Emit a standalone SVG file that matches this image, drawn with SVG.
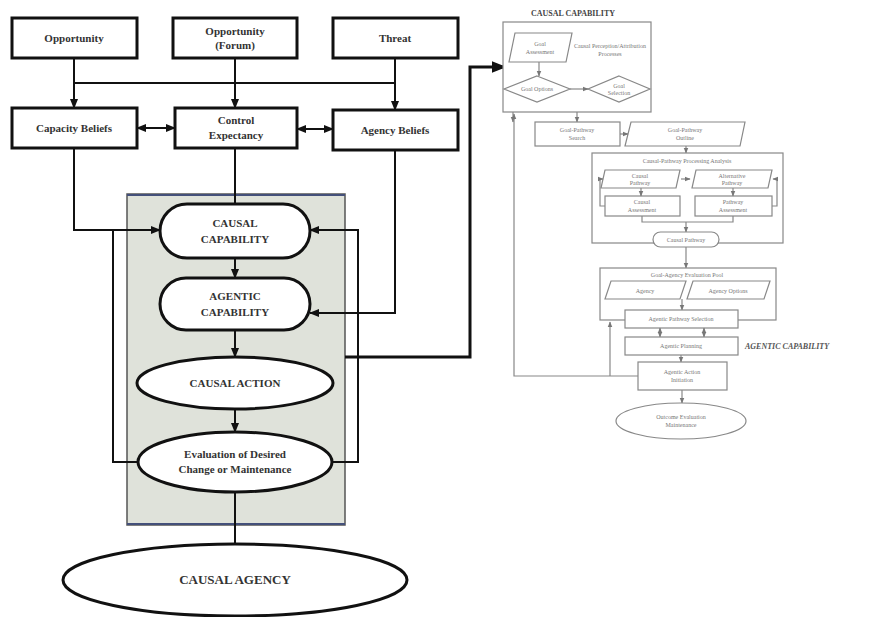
<svg xmlns="http://www.w3.org/2000/svg" width="871" height="617" viewBox="0 0 871 617">
<style>
.b{fill:#fff;stroke:#111;stroke-width:3}
.e{fill:#fff;stroke:#111;stroke-width:3}
.c{fill:none;stroke:#111;stroke-width:2}
.t{font-family:"Liberation Serif",serif;font-weight:bold;font-size:11px;fill:#333;text-anchor:middle}
.r{fill:#fff;stroke:#888;stroke-width:1.2}
.rc{fill:none;stroke:#888;stroke-width:1.2}
.rt{font-family:"Liberation Serif",serif;font-size:6px;fill:#777;text-anchor:middle}
</style>
<defs>
<marker id="a" viewBox="0 0 10 10" refX="9" refY="5" markerWidth="5" markerHeight="5" orient="auto-start-reverse"><path d="M0,1 L10,5 L0,9 z" fill="#111"/></marker>
<marker id="ra" viewBox="0 0 10 10" refX="9" refY="5" markerWidth="5" markerHeight="5" orient="auto-start-reverse"><path d="M0,1 L10,5 L0,9 z" fill="#777"/></marker>
</defs>
<rect width="871" height="617" fill="#fff"/>
<g id="panel"><rect x="127" y="194" width="218" height="331" fill="#dfe2da" stroke="#555" stroke-width="1.5"/><line x1="127" y1="195" x2="345" y2="195" stroke="#44507a" stroke-width="2"/><line x1="127" y1="524" x2="345" y2="524" stroke="#44507a" stroke-width="2"/></g>
<g id="connectors">
<path class="c" d="M74,58 V108" marker-end="url(#a)"/>
<path class="c" d="M235,58 V108" marker-end="url(#a)"/>
<path class="c" d="M395,58 V110" marker-end="url(#a)"/>
<path class="c" d="M74,83 H395"/>
<path class="c" d="M137,128 H175" marker-start="url(#a)" marker-end="url(#a)"/>
<path class="c" d="M297,129 H333" marker-start="url(#a)" marker-end="url(#a)"/>
<path class="c" d="M74,148 V230 H160" marker-end="url(#a)"/>
<path class="c" d="M235,148 V204"/>
<path class="c" d="M395,150 V313 H310" marker-end="url(#a)"/>
<path class="c" d="M235,258 V278" marker-end="url(#a)"/>
<path class="c" d="M235,330 V357" marker-end="url(#a)"/>
<path class="c" d="M235,409 V432" marker-end="url(#a)"/>
<path class="c" d="M235,492 V544"/>
<path class="c" d="M138,462 H113 V230"/>
<path class="c" d="M332,462 H358 V230 H310" marker-end="url(#a)"/>
<path d="M345,357 H470 V67 H505" fill="none" stroke="#111" stroke-width="3" marker-end="url(#a)"/>
</g>
<g id="opportunity"><rect class="b" x="12" y="18" width="125" height="40"/><text class="t" x="74" y="42">Opportunity</text></g>
<g id="opportunity-forum"><rect class="b" x="173" y="18" width="124" height="40"/><text class="t" x="235" y="35">Opportunity</text><text class="t" x="235" y="49">(Forum)</text></g>
<g id="threat"><rect class="b" x="333" y="18" width="125" height="40"/><text class="t" x="395" y="42">Threat</text></g>
<g id="capacity-beliefs"><rect class="b" x="12" y="108" width="125" height="40"/><text class="t" x="74" y="132">Capacity Beliefs</text></g>
<g id="control-expectancy"><rect class="b" x="175" y="108" width="122" height="40"/><text class="t" x="236" y="124">Control</text><text class="t" x="236" y="139">Expectancy</text></g>
<g id="agency-beliefs"><rect class="b" x="333" y="110" width="125" height="40"/><text class="t" x="395" y="134">Agency Beliefs</text></g>
<g id="causal-capability"><rect class="b" x="160" y="204" width="150" height="54" rx="27"/><text class="t" x="235" y="227">CAUSAL</text><text class="t" x="235" y="243">CAPABILITY</text></g>
<g id="agentic-capability"><rect class="b" x="160" y="278" width="150" height="52" rx="26"/><text class="t" x="235" y="300">AGENTIC</text><text class="t" x="235" y="316">CAPABILITY</text></g>
<g id="causal-action"><ellipse class="e" cx="235" cy="383" rx="98" ry="26"/><text class="t" x="235" y="387">CAUSAL ACTION</text></g>
<g id="evaluation"><ellipse class="e" cx="235" cy="462" rx="97" ry="30"/><text class="t" x="235" y="458">Evaluation of Desired</text><text class="t" x="235" y="473">Change or Maintenance</text></g>
<g id="causal-agency"><ellipse class="e" cx="235" cy="580" rx="172" ry="36"/><text class="t" x="235" y="584" style="font-size:13px">CAUSAL AGENCY</text></g>
<g id="detail">
<text x="573" y="16" style="font-family:'Liberation Serif',serif;font-weight:bold;font-size:8px;fill:#444;text-anchor:middle">CAUSAL CAPABILITY</text>
<rect class="r" x="503" y="22" width="148" height="90"/>
<polygon class="r" points="515,33 572,33 566,62 509,62"/>
<text class="rt" x="540" y="46">Goal</text><text class="rt" x="540" y="54">Assessment</text>
<text class="rt" x="610" y="48">Causal Perception/Attribution</text><text class="rt" x="610" y="56">Processes</text>
<polygon class="r" points="537,76 570,89 537,102 504,89"/>
<text class="rt" x="537" y="91">Goal Options</text>
<polygon class="r" points="619,76 650,89 619,102 588,89"/>
<text class="rt" x="619" y="88">Goal</text><text class="rt" x="619" y="95">Selection</text>
<path class="rc" d="M539,62 V76" marker-end="url(#ra)"/>
<path class="rc" d="M570,89 H588" marker-end="url(#ra)"/>
<path class="rc" d="M513,112 V122" marker-end="url(#ra)"/>
<path class="rc" d="M577,112 V122" marker-end="url(#ra)"/>
<rect class="r" x="535" y="122" width="85" height="24"/>
<text class="rt" x="577" y="132">Goal-Pathway</text><text class="rt" x="577" y="140">Search</text>
<polygon class="r" points="631,122 745,122 740,146 625,146"/>
<text class="rt" x="685" y="132">Goal-Pathway</text><text class="rt" x="685" y="140">Outline</text>
<path class="rc" d="M620,134 H628" marker-end="url(#ra)"/>
<path class="rc" d="M686,146 V153" marker-end="url(#ra)"/>
<rect class="r" x="592" y="153" width="191" height="90"/>
<text class="rt" x="687" y="163">Causal-Pathway Processing Analysis</text>
<polygon class="r" points="605,170 680,170 676,188 601,188"/>
<text class="rt" x="640" y="178">Causal</text><text class="rt" x="640" y="185">Pathway</text>
<polygon class="r" points="696,170 772,170 768,188 692,188"/>
<text class="rt" x="732" y="178">Alternative</text><text class="rt" x="732" y="185">Pathway</text>
<rect class="r" x="605" y="196" width="75" height="20"/>
<text class="rt" x="642" y="204">Causal</text><text class="rt" x="642" y="212">Assessment</text>
<rect class="r" x="695" y="196" width="77" height="20"/>
<text class="rt" x="733" y="204">Pathway</text><text class="rt" x="733" y="212">Assessment</text>
<path class="rc" d="M605,206 H600 V179 H603" marker-end="url(#ra)"/>
<path class="rc" d="M772,206 H777 V179 H773" marker-end="url(#ra)"/>
<path class="rc" d="M641,188 V196" marker-end="url(#ra)"/>
<path class="rc" d="M733,188 V196" marker-end="url(#ra)"/>
<path class="rc" d="M681,179 H690" marker-end="url(#ra)"/>
<path class="rc" d="M642,216 V222 H733 V216"/>
<path class="rc" d="M686,222 V232" marker-end="url(#ra)"/>
<rect class="r" x="653" y="232" width="66" height="15" rx="7.5"/>
<text class="rt" x="686" y="242">Causal Pathway</text>
<path class="rc" d="M686,247 V268" marker-end="url(#ra)"/>
<rect class="r" x="600" y="268" width="176" height="52"/>
<text class="rt" x="687" y="277">Goal-Agency Evaluation Pool</text>
<polygon class="r" points="611,281 686,281 680,299 605,299"/>
<text class="rt" x="645" y="293">Agency</text>
<polygon class="r" points="693,281 770,281 764,299 687,299"/>
<text class="rt" x="728" y="293">Agency Options</text>
<path class="rc" d="M682,299 V310" marker-end="url(#ra)"/>
<rect class="r" x="625" y="310" width="113" height="18"/>
<text class="rt" x="681" y="321">Agentic Pathway Selection</text>
<path class="rc" d="M660,328 V337" marker-start="url(#ra)" marker-end="url(#ra)"/>
<path class="rc" d="M704,328 V337" marker-start="url(#ra)" marker-end="url(#ra)"/>
<rect class="r" x="625" y="337" width="113" height="18"/>
<text class="rt" x="681" y="348">Agentic Planning</text>
<text x="745" y="349" style="font-family:'Liberation Serif',serif;font-weight:bold;font-style:italic;font-size:8px;fill:#555">AGENTIC CAPABILITY</text>
<path class="rc" d="M681,355 V362" marker-end="url(#ra)"/>
<rect class="r" x="638" y="362" width="89" height="28"/>
<text class="rt" x="682" y="374">Agentic Action</text><text class="rt" x="682" y="382">Initiation</text>
<path class="rc" d="M682,390 V403" marker-end="url(#ra)"/>
<ellipse class="r" cx="681" cy="421" rx="65" ry="18"/>
<text class="rt" x="681" y="419">Outcome Evaluation</text><text class="rt" x="681" y="427">Maintenance</text>
<path class="rc" d="M638,376 H514 V114" marker-end="url(#ra)"/>
<path class="rc" d="M610,376 V322" marker-end="url(#ra)"/>
</g>
</svg>
